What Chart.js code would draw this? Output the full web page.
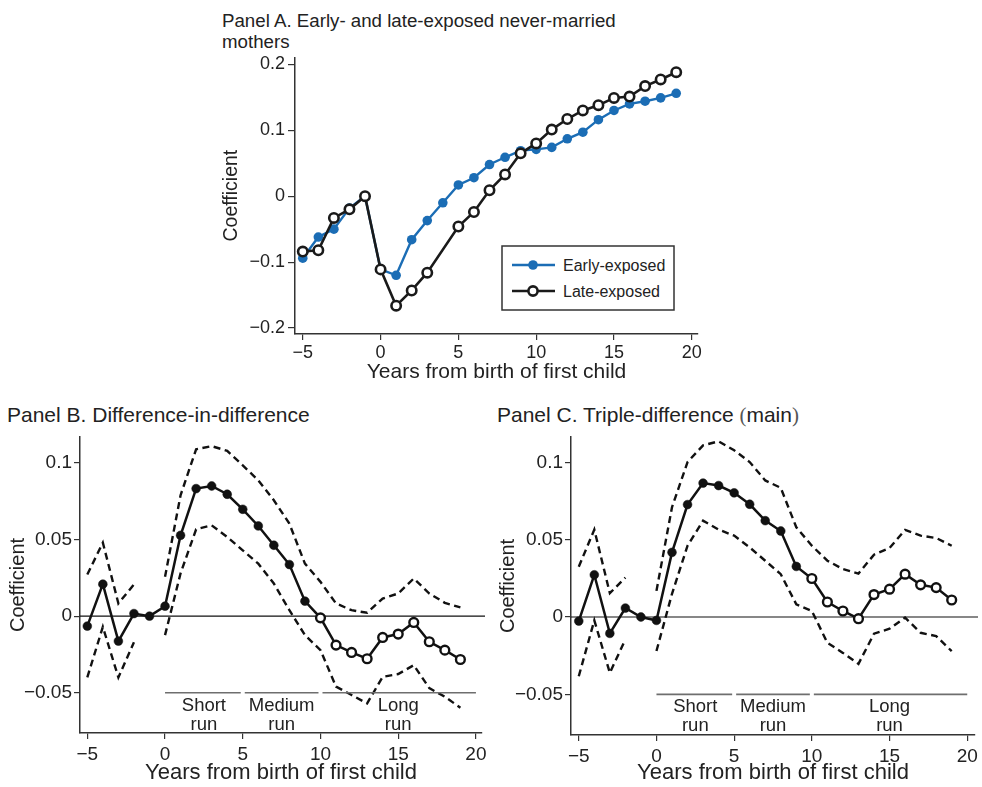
<!DOCTYPE html>
<html><head><meta charset="utf-8">
<script src="https://cdn.jsdelivr.net/npm/chart.js@4.4.1/dist/chart.umd.min.js"></script>
<style>
html,body{margin:0;padding:0;background:#fff;}
body{width:982px;height:787px;position:relative;overflow:hidden;font-family:"Liberation Sans",Arial,sans-serif;color:#222;}
canvas{position:absolute;}
.t{position:absolute;white-space:nowrap;color:#222;}
</style></head><body>
<div class="t" style="left:222px;top:9.5px;font-size:18.7px;line-height:21.5px;">Panel A. Early- and late-exposed never-married<br>mothers</div>
<div class="t" style="left:7px;top:404px;font-size:21px;line-height:21px;">Panel B. Difference-in-difference</div>
<div class="t" style="left:497px;top:404px;font-size:21px;line-height:21px;">Panel C. Triple-difference <span style="font-family:'Liberation Serif';color:#555">(</span>main<span style="font-family:'Liberation Serif';color:#555">)</span></div>
<canvas id="cA" width="500" height="340" style="left:210px;top:50px"></canvas>
<canvas id="cB" width="490" height="362" style="left:0px;top:425px"></canvas>
<canvas id="cC" width="492" height="362" style="left:490px;top:425px"></canvas>
<svg id="legA" width="176" height="68" style="position:absolute;left:500px;top:244px;font-family:'Liberation Sans',Arial,sans-serif">
  <rect x="2" y="2" width="172" height="64" fill="#fff" stroke="#333" stroke-width="1.5"/>
  <line x1="12" y1="21" x2="55" y2="21" stroke="#1b6db5" stroke-width="2.4"/>
  <circle cx="33" cy="21" r="4.8" fill="#1b6db5"/>
  <text x="63" y="27" font-size="16" fill="#222">Early-exposed</text>
  <line x1="12" y1="47" x2="55" y2="47" stroke="#1a1a1a" stroke-width="2.6"/>
  <circle cx="33" cy="47" r="4.6" fill="#fff" stroke="#1a1a1a" stroke-width="2.6"/>
  <text x="63" y="53" font-size="16" fill="#222">Late-exposed</text>
</svg>
<script>
const years = [-5,-4,-3,-2,-1,0,1,2,3,4,5,6,7,8,9,10,11,12,13,14,15,16,17,18,19];
const xTickVals = [-5,0,5,10,15,20];
const xTickLabels = ['\u22125','0','5','10','15','20'];
const yTickValsA = [-0.2,-0.1,0,0.1,0.2];
const yTickLabelsA = ['\u22120.2','\u22120.1','0','0.1','0.2'];
const yTickValsBC = [-0.05,0,0.05,0.1];
const yTickLabelsBC = ['\u22120.05','0','0.05','0.1'];

// Panel A
const earlyExposed = [-0.094,-0.062,-0.050,-0.018,0,-0.111,-0.120,-0.066,-0.037,-0.010,0.017,0.028,0.048,0.059,0.069,0.071,0.074,0.087,0.097,0.116,0.130,0.140,0.144,0.149,0.156];
const lateExposed = [-0.084,-0.082,-0.033,-0.020,0,-0.111,-0.166,-0.143,-0.116,null,-0.046,-0.024,0.009,0.033,0.065,0.080,0.101,0.117,0.130,0.138,0.149,0.151,0.167,0.177,0.188];

// Panel B
const estB = [-0.0065,0.0209,-0.0163,0.0017,0,0.0065,0.0528,0.0833,0.0850,0.0796,0.0698,0.0589,0.0463,0.0337,0.0098,-0.0011,-0.0189,-0.0237,-0.0278,-0.0139,-0.0117,-0.0041,-0.0167,-0.0222,-0.0283];
const upperB = [0.0272,0.0480,0.0083,0.0207,null,0.0257,0.079,0.109,0.111,0.108,0.0985,0.0887,0.0757,0.0604,0.0343,0.0224,0.0083,0.0039,0.0022,0.0115,0.0148,0.0246,0.0148,0.0087,0.0057];
const lowerB = [-0.040,-0.007,-0.040,-0.017,null,-0.0124,0.028,0.0567,0.0593,0.0517,0.043,0.0343,0.0213,0.0039,-0.0124,-0.0222,-0.046,-0.0515,-0.057,-0.0396,-0.0378,-0.032,-0.047,-0.0526,-0.0598];

// Panel C
const estC = [-0.0026,0.0273,-0.0106,0.0058,0,-0.0022,0.0418,0.0727,0.0866,0.0850,0.0803,0.0729,0.0623,0.0556,0.0327,0.0249,0.0097,0.0039,-0.0011,0.0145,0.0180,0.0277,0.0208,0.0190,0.0110];
const upperC = [0.0325,0.0565,0.0154,0.0255,null,0.0169,0.071,0.1002,0.111,0.1136,0.1078,0.1002,0.0883,0.0835,0.058,0.0461,0.0364,0.031,0.0281,0.0403,0.0446,0.0563,0.0526,0.0511,0.0461];
const lowerC = [-0.0383,-0.0022,-0.0361,-0.0145,null,-0.022,0.015,0.0461,0.0623,0.0565,0.0526,0.045,0.0364,0.0277,0.0082,0.0039,-0.0167,-0.0232,-0.0303,-0.0108,-0.0076,-0.0004,-0.0102,-0.0123,-0.0221];

const runNames = [['Short','run'],['Medium','run'],['Long','run']];
const runStart = [0,5,10];
const runEnd = [5,10,20];
const runLevel = -0.05;
const longRunFrom = 10;

const FONT = "'Liberation Sans', Arial, sans-serif";
const pts = arr => years.map((x,i)=>({x:x, y:arr[i]}));

const extras = {
  id:'extras',
  beforeDatasetsDraw(chart, args, o){
    if(!o.zeroLine) return;
    const {ctx, chartArea:a, scales:{y}} = chart;
    const yp = y.getPixelForValue(0);
    ctx.save(); ctx.strokeStyle='#111'; ctx.lineWidth=1.2;
    ctx.beginPath(); ctx.moveTo(a.left,yp); ctx.lineTo(a.right+3,yp); ctx.stroke(); ctx.restore();
  },
  afterDatasetsDraw(chart, args, o){
    if(!o.runs) return;
    const {ctx, scales:{x,y}} = chart;
    const yp = y.getPixelForValue(runLevel);
    ctx.save();
    runStart.forEach((s,i)=>{
      const x0 = x.getPixelForValue(s)+(i?2:0);
      const x1 = x.getPixelForValue(runEnd[i])-(i<2?2:0);
      ctx.strokeStyle='#6e6e6e'; ctx.lineWidth=1.6;
      ctx.beginPath(); ctx.moveTo(x0,yp); ctx.lineTo(x1,yp); ctx.stroke();
      const cx = x.getPixelForValue((s+runEnd[i])/2);
      ctx.fillStyle='#222'; ctx.font = "18.5px 'Liberation Sans', Arial, sans-serif";
      ctx.textAlign='center'; ctx.textBaseline='middle';
      ctx.fillText(runNames[i][0], cx, yp+13);
      ctx.fillText(runNames[i][1], cx, yp+32);
    });
    ctx.restore();
  }
};

function makeScales(o){
  return {
    x:{type:'linear',min:o.xMin,max:o.xMax,
      afterBuildTicks:s=>{s.ticks = xTickVals.map(v=>({value:v}));},
      afterFit:s=>{s.height=o.xH; s.paddingLeft=0; s.paddingRight=0;},
      ticks:{autoSkip:false,maxRotation:0,padding:o.xPad,color:'#222',font:{family:FONT,size:o.tick},callback:(v,i)=>xTickLabels[i]},
      grid:{drawOnChartArea:false,drawTicks:true,tickLength:6,color:'#333',lineWidth:1.2},
      border:{display:true,color:'#333',width:1.5},
      title:{display:true,text:'Years from birth of first child',color:'#222',font:{family:FONT,size:o.xTitle},padding:{top:0,bottom:o.xTitlePad}}
    },
    y:{type:'linear',min:o.yMin,max:o.yMax,
      afterBuildTicks:s=>{s.ticks = o.yVals.map(v=>({value:v}));},
      afterFit:s=>{s.width=o.yW; s.paddingTop=0; s.paddingBottom=0;},
      ticks:{autoSkip:false,padding:o.yPad,color:'#222',font:{family:FONT,size:o.tick},callback:(v,i)=>o.yLabels[i]},
      grid:{drawOnChartArea:false,drawTicks:true,tickLength:o.yTL,color:'#333',lineWidth:1.2},
      border:{display:true,color:'#333',width:1.5},
      title:{display:true,text:'Coefficient',color:'#222',font:{family:FONT,size:o.yTitle},padding:{top:o.yTitlePad,bottom:0}}
    }
  };
}

function baseOptions(o, pad, extrasOpts){
  return {
    responsive:false, animation:false, devicePixelRatio:1,
    layout:{padding:pad},
    plugins:{legend:{display:false},tooltip:{enabled:false},extras:extrasOpts},
    scales:makeScales(o)
  };
}

// Panel A chart
new Chart(document.getElementById('cA'),{
  type:'line',
  data:{datasets:[
    {label:'Late-exposed',data:pts(lateExposed),borderColor:'#1a1a1a',borderWidth:2.6,pointRadius:4.7,pointBackgroundColor:'#fff',pointBorderColor:'#1a1a1a',pointBorderWidth:2.6,spanGaps:true,clip:false,order:0},
    {label:'Early-exposed',data:pts(earlyExposed),borderColor:'#1b6db5',borderWidth:2.4,pointRadius:4.8,pointBackgroundColor:'#1b6db5',pointBorderColor:'#1b6db5',pointBorderWidth:0,clip:false,order:1}
  ]},
  options:baseOptions({xMin:-5.5,xMax:20.4,yMin:-0.209,yMax:0.2106,yVals:yTickValsA,yLabels:yTickLabelsA,
    xH:56,yW:85,tick:18,xTitle:21,yTitle:19.5,xPad:2,yPad:3,yTL:7,xTitlePad:5,yTitlePad:10},
    {top:7,right:12,left:0,bottom:0},{zeroLine:false,runs:false}),
  plugins:[extras]
});

function panel(id, est, up, lo, o, pad){
  const open = years.map(x=>x>=longRunFrom);
  return new Chart(document.getElementById(id),{
    type:'line',
    data:{datasets:[
      {label:'Estimate',data:pts(est),borderColor:'#111',borderWidth:2.5,
       pointRadius:open.map(b=>b?4.4:4.4),pointBackgroundColor:open.map(b=>b?'#fff':'#111'),
       pointBorderColor:'#111',pointBorderWidth:open.map(b=>b?2.4:0.5),clip:false,order:0},
      {label:'Upper',data:pts(up),borderColor:'#111',borderWidth:2.4,borderDash:[7,4.5],pointRadius:0,spanGaps:false,clip:false,order:1},
      {label:'Lower',data:pts(lo),borderColor:'#111',borderWidth:2.4,borderDash:[7,4.5],pointRadius:0,spanGaps:false,clip:false,order:1}
    ]},
    options:baseOptions(o,pad,{zeroLine:true,runs:true}),
    plugins:[extras]
  });
}

panel('cB',estB,upperB,lowerB,{xMin:-5.47,xMax:20.39,yMin:-0.0763,yMax:0.117,yVals:yTickValsBC,yLabels:yTickLabelsBC,
  xH:54,yW:80,tick:19,xTitle:22,yTitle:20,xPad:4,yPad:2,yTL:6,xTitlePad:1,yTitlePad:6},{top:12,right:8,left:0,bottom:0});
panel('cC',estC,upperC,lowerC,{xMin:-5.5,xMax:20.5,yMin:-0.0763,yMax:0.1164,yVals:yTickValsBC,yLabels:yTickLabelsBC,
  xH:52,yW:81,tick:19,xTitle:22,yTitle:20,xPad:4,yPad:2,yTL:6,xTitlePad:1,yTitlePad:6},{top:12,right:7,left:0,bottom:0});
</script>
</body></html>
